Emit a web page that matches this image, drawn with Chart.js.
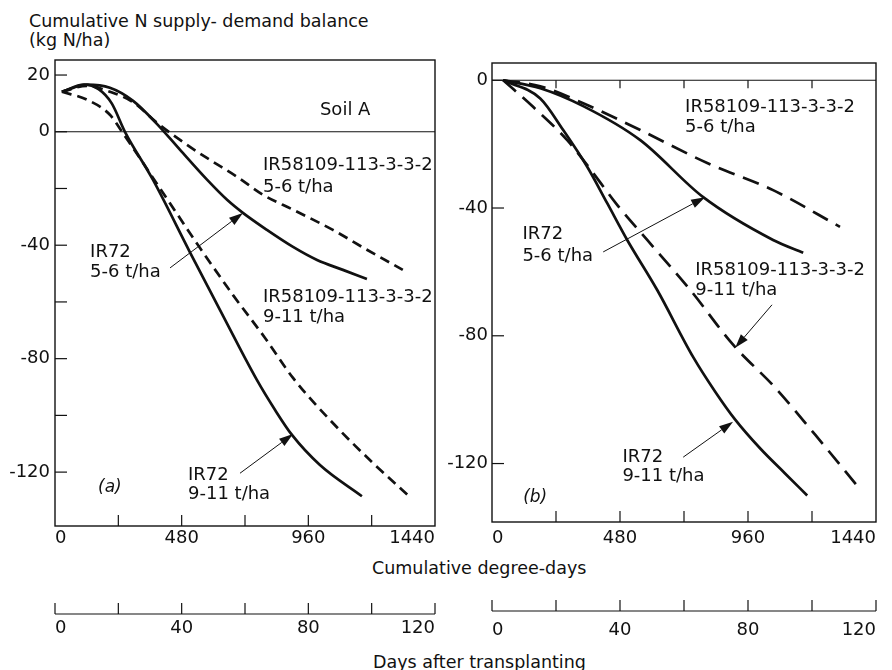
<!DOCTYPE html>
<html>
<head>
<meta charset="utf-8">
<script src="https://cdn.jsdelivr.net/npm/chart.js@4.4.1/dist/chart.umd.min.js"></script>
<style>
  body { margin: 0; background: #fff; }
  #page { position: relative; width: 892px; height: 670px; overflow: hidden; font-family: "DejaVu Sans"; color: #111; }
  canvas { position: absolute; top: 0; }
  .txt { position: absolute; font-size: 17.5px; line-height: 15px; white-space: nowrap; }
</style>
</head>
<body>
<div id="page">
  <div class="txt" style="left:29px;top:14px">Cumulative N supply- demand balance</div>
  <div class="txt" style="left:29px;top:33px">(kg N/ha)</div>
  <div class="txt" style="left:372px;top:561px">Cumulative degree-days</div>
  <div class="txt" style="left:373px;top:655px">Days after transplanting</div>
  <canvas id="panelA" width="446" height="670" style="left:0"></canvas>
  <canvas id="panelB" width="446" height="670" style="left:446px"></canvas>
</div>
<script>
// tick labels
const ddLabels = [0, 480, 960, 1440];
const dayLabels = [0, 40, 80, 120];
const aYLabels = [20, 0, -40, -80, -120];
const bYLabels = [0, -40, -80, -120];

// tick marks (no label on some of them)
const ddMarks = [240, 480, 720, 960, 1200];
const dayMarks = [0, 20, 40, 60, 80, 100, 120];
const aYMarks = [20, 0, -20, -40, -60, -80, -100, -120];
const bYMarks = [0, -40, -80, -120];

// panel (a), Soil A : [degree-days, kg N/ha]
const aIR72_hi = [[26, 14.1], [110, 16.6], [165, 15], [215, 10], [265, 0], [371, -16.9], [511, -42.4], [625, -62.8], [765, -87.5], [834, -98.1], [898, -106.9], [1004, -117.5], [1163, -128.5]];
const aIR58_hi = [[26, 14.1], [121, 11.3], [208, 6], [254, 0], [409, -21.5], [549, -40.9], [674, -57.5], [796, -72.7], [902, -86.8], [1053, -102.7], [1205, -116.8], [1345, -128.8]];
const aIR72_lo = [[26, 14.1], [121, 16.6], [208, 15.5], [296, 10.9], [386, 2.8], [474, -6.4], [576, -16.9], [652, -24], [712, -28.6], [803, -34.6], [902, -40.6], [993, -45.2], [1091, -48.7], [1182, -51.9]];
const aIR58_lo = [[26, 14.1], [121, 16.2], [208, 14.1], [296, 10.4], [386, 3.2], [500, -4.6], [587, -9.9], [690, -15.9], [788, -22.2], [902, -27.5], [1053, -34.6], [1182, -41.6], [1318, -48.7]];

// panel (b)
const bIR72_hi = [[42, 0], [181, -5.7], [267, -15.6], [357, -27.1], [432, -38.5], [507, -50], [619, -65.6], [754, -86.6], [837, -97.5], [912, -106.25], [1006, -115.3], [1099, -123.1], [1182, -130]];
const bIR58_hi = [[42, 0], [155, -8.4], [282, -18.75], [380, -29.1], [470, -39.1], [582, -50], [743, -65.6], [904, -82.8], [1062, -96.25], [1211, -110.9], [1372, -127.2]];
const bIR72_lo = [[42, 0], [181, -2.5], [342, -8.1], [556, -18.75], [792, -36.6], [1054, -50], [1167, -54]];
const bIR58_lo = [[42, 0], [181, -1.9], [342, -7.2], [556, -15.6], [807, -25.9], [1054, -34.4], [1305, -45.9]];

// labels: [text, x, baseline y] in data units
const aNotes = [
  ["Soil A", 1004, 6],
  ["IR58109-113-3-3-2", 788, -13.4], ["5-6 t/ha", 788, -21.2],
  ["IR72", 133, -44.1], ["5-6 t/ha", 133, -51.2],
  ["IR58109-113-3-3-2", 788, -60], ["9-11 t/ha", 788, -67.1],
  ["IR72", 504, -122.8], ["9-11 t/ha", 504, -129.5]
];
const bNotes = [
  ["IR58109-113-3-3-2", 724, -10], ["5-6 t/ha", 724, -16.25],
  ["IR72", 114, -49.7], ["5-6 t/ha", 114, -56.6],
  ["IR58109-113-3-3-2", 762, -60.9], ["9-11 t/ha", 762, -67.2],
  ["IR72", 489, -119.4], ["9-11 t/ha", 489, -125.6]
];
// arrows: [fromX, fromY, tipX, tipY]
const aArrows = [[436, -48, 712, -28.6], [701, -120.4, 902, -106.6]];
const bArrows = [[417, -53.75, 799, -36.6], [1050, -70.3, 912, -83.75], [717, -118, 904, -106.9]];

const ink = "#111";
Chart.defaults.font.family = "'DejaVu Sans'";
Chart.defaults.font.size = 18;
Chart.defaults.color = ink;

function line(ctx, x1, y1, x2, y2) {
  ctx.beginPath();
  ctx.moveTo(x1, y1);
  ctx.lineTo(x2, y2);
  ctx.stroke();
}

function arrow(ctx, x1, y1, x2, y2) {
  const ang = Math.atan2(y2 - y1, x2 - x1);
  const hl = 14, hw = 4.5;
  const bx = x2 - hl * Math.cos(ang), by = y2 - hl * Math.sin(ang);
  ctx.lineWidth = 1;
  line(ctx, x1, y1, bx, by);
  ctx.beginPath();
  ctx.moveTo(x2, y2);
  ctx.lineTo(bx + hw * Math.sin(ang), by - hw * Math.cos(ang));
  ctx.lineTo(bx - hw * Math.sin(ang), by + hw * Math.cos(ang));
  ctx.closePath();
  ctx.fill();
}

// frame, inward ticks, zero line, days axis, labels and arrows
const makeDecor = (p) => ({
  id: "decor",
  afterDraw(chart) {
    const { ctx, chartArea: a, scales } = chart;
    const sx = scales.x, sy = scales.y, sd = scales.days;
    ctx.save();
    ctx.strokeStyle = ink;
    ctx.fillStyle = ink;
    ctx.lineWidth = 1.4;
    ctx.strokeRect(a.left, a.top, a.right - a.left, a.bottom - a.top);

    ctx.lineWidth = 1.2;
    const y0 = sy.getPixelForValue(0);
    line(ctx, a.left, y0, a.right, y0);
    p.yMarks.forEach((v) => {
      const y = sy.getPixelForValue(v);
      line(ctx, a.left, y, a.left + 12, y);
    });
    ddMarks.forEach((v) => {
      const x = sx.getPixelForValue(v);
      line(ctx, x, a.bottom, x, a.bottom - 11);
      if (p.zeroTicks) line(ctx, x, y0, x, y0 + 8);
    });

    // days after transplanting axis
    line(ctx, sd.left, sd.top, sd.right, sd.top);
    dayMarks.forEach((v) => {
      const x = sd.getPixelForValue(v);
      line(ctx, x, sd.top, x, sd.top - 11);
    });

    ctx.font = "18px 'DejaVu Sans'";
    ctx.textAlign = "left";
    ctx.textBaseline = "alphabetic";
    p.notes.forEach(([t, x, y]) => {
      ctx.fillText(t, sx.getPixelForValue(x), sy.getPixelForValue(y));
    });
    ctx.font = "italic 17px 'DejaVu Sans'";
    ctx.fillText(p.tag[0], sx.getPixelForValue(p.tag[1]), sy.getPixelForValue(p.tag[2]));

    p.arrows.forEach(([x1, y1, x2, y2]) => {
      arrow(ctx, sx.getPixelForValue(x1), sy.getPixelForValue(y1),
        sx.getPixelForValue(x2), sy.getPixelForValue(y2));
    });
    ctx.restore();
  }
});

function panelChart(id, p) {
  const tickFont = { size: 18 };
  return new Chart(document.getElementById(id), {
    type: "line",
    data: {
      datasets: p.series.map(([pts, dash]) => ({
        data: pts.map(([x, y]) => ({ x, y })),
        borderColor: ink,
        borderWidth: 2.7,
        borderDash: dash,
        pointRadius: 0,
        cubicInterpolationMode: "monotone",
        fill: false
      }))
    },
    options: {
      responsive: false,
      animation: false,
      devicePixelRatio: 1,
      layout: { padding: p.pad },
      plugins: { legend: { display: false }, tooltip: { enabled: false } },
      scales: {
        x: {
          type: "linear", position: "bottom", weight: 0, min: 0, max: 1440,
          grid: { display: false, drawTicks: false }, border: { display: false },
          afterBuildTicks: (s) => { s.ticks = ddLabels.map((v) => ({ value: v })); },
          afterFit: (s) => { s.height = p.xHeight; },
          ticks: { align: "inner", padding: p.xPad, autoSkip: false, maxRotation: 0, font: tickFont, callback: (v) => String(v) }
        },
        days: {
          type: "linear", position: "bottom", weight: 1, min: 0, max: 120,
          grid: { display: false, drawTicks: false }, border: { display: false },
          afterBuildTicks: (s) => { s.ticks = dayLabels.map((v) => ({ value: v })); },
          afterFit: (s) => { s.height = 40; },
          ticks: { align: "inner", padding: p.dayPad, autoSkip: false, maxRotation: 0, font: tickFont, callback: (v) => String(v) }
        },
        y: {
          type: "linear", position: "left", min: p.yRange[0], max: p.yRange[1],
          grid: { display: false, drawTicks: false }, border: { display: false },
          afterBuildTicks: (s) => { s.ticks = p.yLabels.map((v) => ({ value: v })); },
          afterFit: (s) => { s.width = p.yWidth; },
          ticks: { padding: p.yPad, autoSkip: false, font: tickFont, callback: (v) => String(v) }
        }
      }
    },
    plugins: [makeDecor(p)]
  });
}

const shortDash = [10, 6];
const longDash = [17, 9];

panelChart("panelA", {
  series: [[aIR72_hi, []], [aIR58_hi, shortDash], [aIR72_lo, []], [aIR58_lo, shortDash]],
  yRange: [-139, 25.3], yLabels: aYLabels, yMarks: aYMarks, zeroTicks: false,
  pad: { left: 0, right: 11, top: 60, bottom: 16 },
  yWidth: 55, yPad: 5, xHeight: 88, xPad: 2, dayPad: 4,
  notes: aNotes, arrows: aArrows, tag: ["(a)", 163, -127.1]
});

panelChart("panelB", {
  series: [[bIR72_hi, []], [bIR58_hi, longDash], [bIR72_lo, []], [bIR58_lo, longDash]],
  yRange: [-138.3, 5.4], yLabels: bYLabels, yMarks: bYMarks, zeroTicks: true,
  pad: { left: 0, right: 16, top: 63, bottom: 19 },
  yWidth: 46, yPad: 4, xHeight: 89, xPad: 6, dayPad: 9,
  notes: bNotes, arrows: bArrows, tag: ["(b)", 117, -131.9]
});
</script>
</body>
</html>
